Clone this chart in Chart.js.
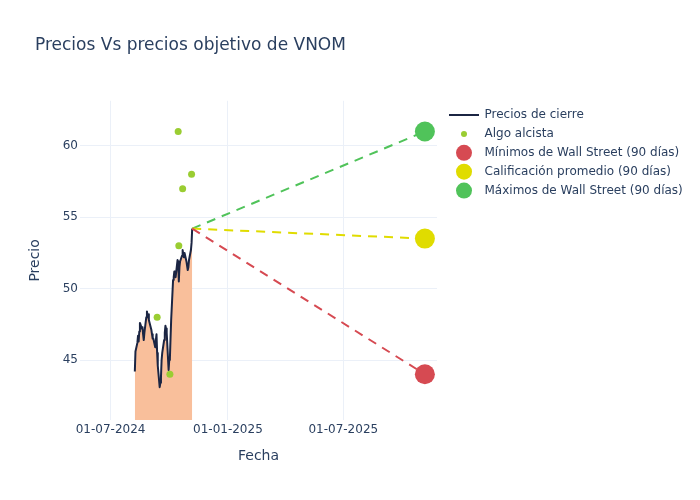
<!DOCTYPE html>
<html>
<head>
<meta charset="utf-8">
<script src="https://cdn.jsdelivr.net/npm/chart.js@4.4.1/dist/chart.umd.min.js"></script>
<style>
  html, body { margin: 0; padding: 0; background: #fff; }
</style>
</head>
<body>
<canvas id="chart" width="700" height="500"></canvas>
<script>
// closing prices
const closeDates = [
  '2024-08-08', '2024-08-09', '2024-08-12', '2024-08-13', '2024-08-14', '2024-08-15', '2024-08-16',
  '2024-08-19', '2024-08-20', '2024-08-21', '2024-08-22', '2024-08-23',
  '2024-08-26', '2024-08-27', '2024-08-28', '2024-08-29', '2024-08-30',
  '2024-09-03', '2024-09-04', '2024-09-05', '2024-09-06',
  '2024-09-09', '2024-09-10', '2024-09-11', '2024-09-12', '2024-09-13',
  '2024-09-16', '2024-09-17', '2024-09-18', '2024-09-19', '2024-09-20',
  '2024-09-23', '2024-09-24', '2024-09-25', '2024-09-26', '2024-09-27',
  '2024-09-30', '2024-10-01', '2024-10-02', '2024-10-03', '2024-10-04',
  '2024-10-07', '2024-10-08', '2024-10-09', '2024-10-10', '2024-10-11',
  '2024-10-14', '2024-10-15', '2024-10-16', '2024-10-17', '2024-10-18',
  '2024-10-21', '2024-10-22', '2024-10-23', '2024-10-24', '2024-10-25',
  '2024-10-28', '2024-10-29', '2024-10-30', '2024-10-31', '2024-11-01',
  '2024-11-04', '2024-11-05', '2024-11-06'
];
const closePrices = [
  44.2, 45.6, 46.2, 46.7, 46.3, 47.0, 47.6,
  47.2, 47.3, 46.8, 46.4, 46.9,
  48.0, 48.4, 48.1, 48.2, 47.8,
  47.1, 46.8, 46.5, 46.5,
  45.9, 46.4, 46.8, 45.5, 44.6,
  43.1, 43.4, 43.8, 45.0, 45.5,
  46.4, 46.9, 47.4, 47.2, 46.9,
  44.3, 45.0, 45.1, 46.5, 47.8,
  50.6, 50.8, 51.2, 51.0, 50.8,
  52.0, 51.9, 50.5, 51.5, 51.9,
  52.3, 52.7, 52.4, 52.2, 52.5,
  51.9, 51.6, 51.3, 51.5, 52.0,
  52.7, 53.2, 54.2
];

// "Algo alcista" ratings
const bullishDates = ['2024-09-12', '2024-10-02', '2024-10-15', '2024-10-16', '2024-10-22', '2024-11-05'];
const bullishPrices = [48, 44, 61, 53, 57, 58];

// analyst targets, one year out
const targetDate = '2025-11-06';
const targetLabels = ['Mínimos de Wall Street (90 días)', 'Calificación promedio (90 días)', 'Máximos de Wall Street (90 días)'];
const targetValues = [44, 53.5, 61];

const xTickDates = ['2024-07-01', '2025-01-01', '2025-07-01'];
const yTickValues = [45, 50, 55, 60];

const ts = d => Date.parse(d + 'T00:00:00Z');
const fmt = v => {
  const d = new Date(v);
  const p = n => String(n).padStart(2, '0');
  return p(d.getUTCDate()) + '-' + p(d.getUTCMonth() + 1) + '-' + d.getUTCFullYear();
};

const TEXT = '#2a3f5f';
const GRID = '#ebf0f8';
const FONT = 'DejaVu Sans';
const LINE = '#1b2543';
const targetColors = ['#d64a52', '#e0dc00', '#50c35a'];

Chart.defaults.font.family = FONT;
Chart.defaults.color = TEXT;

const lastX = ts(closeDates[closeDates.length - 1]);
const lastY = closePrices[closePrices.length - 1];

const bullish = bullishDates.map((d, i) => ({ x: ts(d), y: bullishPrices[i] }));
const closes = closeDates.map((d, i) => ({ x: ts(d), y: closePrices[i] }));

const targetSets = targetValues.map((v, i) => ({
  label: targetLabels[i],
  data: [{ x: lastX, y: lastY }, { x: ts(targetDate), y: v }],
  borderColor: targetColors[i],
  backgroundColor: targetColors[i],
  borderWidth: 2,
  borderDash: [9, 7],
  pointRadius: [0, 10],
  pointBorderWidth: 0,
  fill: false
}));

const legendItems = [
  { text: 'Precios de cierre', kind: 'line', color: LINE },
  { text: 'Algo alcista', kind: 'dot', r: 3, color: '#9acd32' },
  { text: targetLabels[0], kind: 'dot', r: 8, color: targetColors[0] },
  { text: targetLabels[1], kind: 'dot', r: 8, color: targetColors[1] },
  { text: targetLabels[2], kind: 'dot', r: 8, color: targetColors[2] }
];

const sideLegend = {
  id: 'sideLegend',
  afterDraw(chart) {
    const ctx = chart.ctx;
    ctx.save();
    ctx.font = '12px "' + FONT + '"';
    ctx.textBaseline = 'middle';
    legendItems.forEach((it, i) => {
      const y = 115 + i * 18.9;
      if (it.kind === 'line') {
        ctx.strokeStyle = it.color;
        ctx.lineWidth = 2;
        ctx.beginPath();
        ctx.moveTo(449, y);
        ctx.lineTo(479, y);
        ctx.stroke();
      } else {
        ctx.fillStyle = it.color;
        ctx.beginPath();
        ctx.arc(464, y, it.r, 0, Math.PI * 2);
        ctx.fill();
      }
      ctx.fillStyle = TEXT;
      ctx.fillText(it.text, 484.5, y);
    });
    ctx.restore();
  }
};

new Chart(document.getElementById('chart'), {
  type: 'line',
  data: {
    datasets: [
      {
        type: 'scatter',
        label: 'Algo alcista',
        data: bullish,
        backgroundColor: '#9acd32',
        pointRadius: 3.5,
        pointBorderWidth: 0
      },
      ...targetSets,
      {
        label: 'Precios de cierre',
        data: closes,
        borderColor: LINE,
        borderWidth: 2,
        borderJoinStyle: 'round',
        pointRadius: 0,
        tension: 0,
        fill: 'start',
        backgroundColor: '#f9bf9b'
      }
    ]
  },
  options: {
    responsive: false,
    animation: false,
    layout: { padding: { left: 35, right: 263, top: 0, bottom: 0 } },
    plugins: {
      legend: { display: false },
      tooltip: { enabled: false },
      title: {
        display: true,
        text: 'Precios Vs precios objetivo de VNOM',
        align: 'start',
        color: TEXT,
        font: { family: FONT, size: 17, weight: 'normal' },
        padding: { top: 35.8, bottom: 44.6 }
      }
    },
    scales: {
      x: {
        type: 'linear',
        min: ts('2024-05-14'),
        max: ts('2025-11-25'),
        afterFit: s => { s.height = 80; },
        afterBuildTicks: s => { s.ticks = xTickDates.map(d => ({ value: ts(d) })); },
        ticks: {
          autoSkip: false,
          maxRotation: 0,
          padding: 3,
          color: TEXT,
          font: { size: 12 },
          callback: v => fmt(v)
        },
        grid: { color: GRID, drawTicks: false, lineWidth: 1 },
        border: { display: false },
        title: {
          display: true,
          text: 'Fecha',
          color: TEXT,
          font: { size: 14 },
          padding: { top: 0, bottom: 34.8 }
        }
      },
      y: {
        min: 40.8,
        max: 63.15,
        afterFit: s => { s.width = 45; },
        afterBuildTicks: s => { s.ticks = yTickValues.map(v => ({ value: v })); },
        ticks: { padding: 2, color: TEXT, font: { size: 12 } },
        grid: { color: GRID, drawTicks: false, lineWidth: 1 },
        border: { display: false },
        title: {
          display: true,
          text: 'Precio',
          color: TEXT,
          font: { size: 14 },
          padding: { top: -8.4, bottom: 0 }
        }
      }
    }
  },
  plugins: [sideLegend]
});
</script>
</body>
</html>
